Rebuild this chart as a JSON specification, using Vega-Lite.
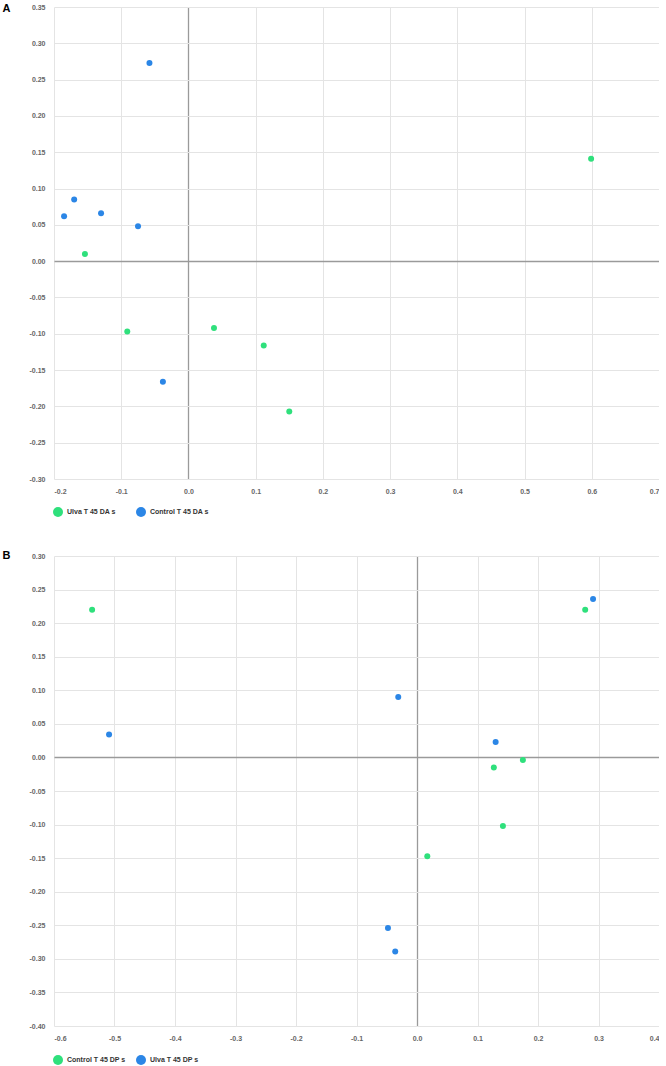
{
  "$schema": "https://vega.github.io/schema/vega-lite/v6.json",
  "padding": {"left": 2, "top": 2, "right": 0, "bottom": 0},
  "spacing": 77,
  "bounds": "flush",
  "resolve": {"scale": {"color": "independent", "x": "independent", "y": "independent"}},
  "config": {
    "view": {"stroke": null},
    "font": "Liberation Sans",
    "axis": {
      "grid": true,
      "gridColor": {"condition": {"test": "datum.value === 0", "value": "#9a9a9a"}, "value": "#e4e4e4"},
      "gridWidth": {"condition": {"test": "datum.value === 0", "value": 1.3}, "value": 1},
      "domain": false, "ticks": false, "labelOverlap": false,
      "labelFont": "Liberation Sans", "labelFontSize": 7, "labelFontWeight": "bold",
      "labelColor": "#666", "labelPadding": 8
    },
    "legend": {
      "orient": "none", "direction": "horizontal", "columns": 2,
      "symbolType": "circle", "symbolSize": 100, "symbolStrokeWidth": 0, "symbolOpacity": 1,
      "labelFont": "Liberation Sans", "labelFontSize": 7, "labelFontWeight": "bold", "labelColor": "#333",
      "gridAlign": "all", "columnPadding": 10, "labelOffset": 4, "padding": 0, "title": null
    }
  },
  "vconcat": [
    {
      "width": 605, "height": 472,
      "data": {"values": [
        {"series": "Ulva T 45 DA s", "x": -0.154, "y": 0.010},
        {"series": "Ulva T 45 DA s", "x": -0.091, "y": -0.097},
        {"series": "Ulva T 45 DA s", "x": 0.038, "y": -0.092},
        {"series": "Ulva T 45 DA s", "x": 0.112, "y": -0.116},
        {"series": "Ulva T 45 DA s", "x": 0.150, "y": -0.207},
        {"series": "Ulva T 45 DA s", "x": 0.599, "y": 0.141},
        {"series": "Control T 45 DA s", "x": -0.058, "y": 0.273},
        {"series": "Control T 45 DA s", "x": -0.170, "y": 0.085},
        {"series": "Control T 45 DA s", "x": -0.185, "y": 0.062},
        {"series": "Control T 45 DA s", "x": -0.130, "y": 0.066},
        {"series": "Control T 45 DA s", "x": -0.075, "y": 0.048},
        {"series": "Control T 45 DA s", "x": -0.038, "y": -0.166}
      ]},
      "mark": {"type": "point", "filled": true, "size": 36, "opacity": 1},
      "encoding": {
        "x": {"field": "x", "type": "quantitative",
          "scale": {"domain": [-0.2, 0.7], "nice": false, "zero": false},
          "axis": {"title": null, "values": [-0.2, -0.1, 0, 0.1, 0.2, 0.3, 0.4, 0.5, 0.6, 0.7],
            "labelExpr": "replace(format(datum.value, '.1f'), '\u2212', '-')"}},
        "y": {"field": "y", "type": "quantitative",
          "scale": {"domain": [-0.3, 0.35], "nice": false, "zero": false},
          "axis": {"title": "A", "values": [-0.3, -0.25, -0.2, -0.15, -0.1, -0.05, 0, 0.05, 0.1, 0.15, 0.2, 0.25, 0.3, 0.35],
            "labelExpr": "replace(format(datum.value, '.2f'), '\u2212', '-')",
            "labelPadding": 9,
            "titleAngle": 0, "titleFontSize": 11, "titleFontWeight": "bold", "titleColor": "#000",
            "titleFont": "Liberation Sans", "titleAlign": "left", "titleBaseline": "top",
            "titleX": -52, "titleY": -5}},
        "color": {"field": "series", "type": "nominal",
          "scale": {"domain": ["Ulva T 45 DA s", "Control T 45 DA s"], "range": ["#2fe07c", "#2b86e6"]},
          "legend": {"legendX": -1, "legendY": 500}}
      }
    },
    {
      "width": 605, "height": 470,
      "data": {"values": [
        {"series": "Control T 45 DP s", "x": -0.537, "y": 0.220},
        {"series": "Control T 45 DP s", "x": 0.278, "y": 0.220},
        {"series": "Control T 45 DP s", "x": 0.175, "y": -0.004},
        {"series": "Control T 45 DP s", "x": 0.127, "y": -0.015},
        {"series": "Control T 45 DP s", "x": 0.142, "y": -0.102},
        {"series": "Control T 45 DP s", "x": 0.017, "y": -0.147},
        {"series": "Ulva T 45 DP s", "x": -0.509, "y": 0.034},
        {"series": "Ulva T 45 DP s", "x": 0.291, "y": 0.236},
        {"series": "Ulva T 45 DP s", "x": -0.031, "y": 0.090},
        {"series": "Ulva T 45 DP s", "x": 0.130, "y": 0.023},
        {"series": "Ulva T 45 DP s", "x": -0.048, "y": -0.254},
        {"series": "Ulva T 45 DP s", "x": -0.036, "y": -0.289}
      ]},
      "mark": {"type": "point", "filled": true, "size": 36, "opacity": 1},
      "encoding": {
        "x": {"field": "x", "type": "quantitative",
          "scale": {"domain": [-0.6, 0.4], "nice": false, "zero": false},
          "axis": {"title": null, "values": [-0.6, -0.5, -0.4, -0.3, -0.2, -0.1, 0, 0.1, 0.2, 0.3, 0.4],
            "labelExpr": "replace(format(datum.value, '.1f'), '\u2212', '-')"}},
        "y": {"field": "y", "type": "quantitative",
          "scale": {"domain": [-0.4, 0.3], "nice": false, "zero": false},
          "axis": {"title": "B", "values": [-0.4, -0.35, -0.3, -0.25, -0.2, -0.15, -0.1, -0.05, 0, 0.05, 0.1, 0.15, 0.2, 0.25, 0.3],
            "labelExpr": "replace(format(datum.value, '.2f'), '\u2212', '-')",
            "labelPadding": 9,
            "titleAngle": 0, "titleFontSize": 11, "titleFontWeight": "bold", "titleColor": "#000",
            "titleFont": "Liberation Sans", "titleAlign": "left", "titleBaseline": "top",
            "titleX": -52, "titleY": -7}},
        "color": {"field": "series", "type": "nominal",
          "scale": {"domain": ["Control T 45 DP s", "Ulva T 45 DP s"], "range": ["#2fe07c", "#2b86e6"]},
          "legend": {"legendX": -1, "legendY": 499}}
      }
    }
  ]
}
